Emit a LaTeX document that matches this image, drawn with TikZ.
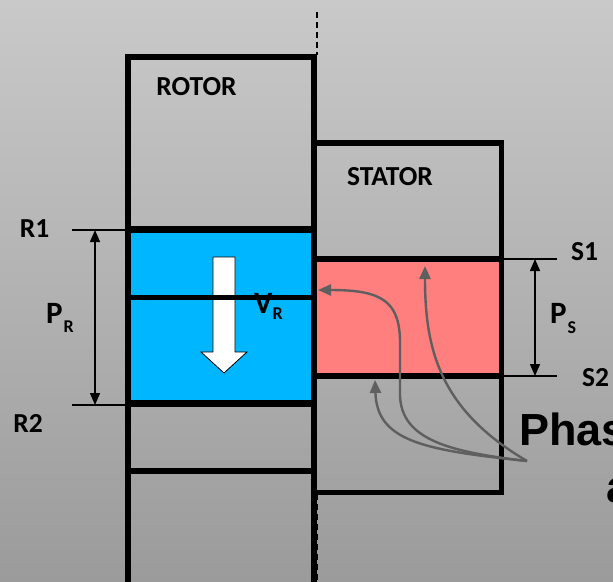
\documentclass[tikz,border=0pt]{standalone}
\usepackage{fontspec}
\setmainfont{Carlito}
\newfontfamily\phasefont{Liberation Sans}
\usetikzlibrary{arrows.meta}
\definecolor{bgtop}{RGB}{201,201,201}
\definecolor{bgbot}{RGB}{155,155,155}
\definecolor{rotorblue}{RGB}{0,183,255}
\definecolor{statorpink}{RGB}{255,127,127}
\definecolor{fluxgray}{RGB}{95,95,95}
\tikzset{
  thickline/.style={line width=5.5pt, draw=black, line join=miter},
  dimline/.style={line width=1.4pt, draw=black, {Triangle[length=12pt,width=10pt]}-{Triangle[length=12pt,width=10pt]}},
  extline/.style={line width=1.1pt, draw=black},
  grayarrow/.style={line width=2.4pt, draw=fluxgray, -{Triangle[length=13pt,width=11pt]}},
  lbl/.style={inner sep=0pt, font=\bfseries\fontsize{27.5}{30}\selectfont},
  biglbl/.style={inner sep=0pt, font=\bfseries\fontsize{31}{34}\selectfont},
  centerline/.style={line width=1.5pt, draw=black, dash pattern=on 6pt off 4pt}
}
\newcommand{\mysub}[2]{\raisebox{#1}{\fontsize{18}{18}\selectfont #2}}
\begin{document}
\begin{tikzpicture}[x=1pt,y=-1pt]
\useasboundingbox (0,0) rectangle (613,581);
\clip (0,0) rectangle (613,581);
\shade[top color=bgtop, bottom color=bgbot] (0,0) rectangle (613,581);

% centre line
\coordinate (cl1) at (317,12);
\coordinate (cl2) at (317,55);
\coordinate (cl3) at (317,494);
\coordinate (cl4) at (317,590);
\draw[centerline] (cl1) -- (cl2);
\draw[centerline] (cl3) -- (cl4);

% fills
\fill[rotorblue] (128,229.5) rectangle (314,403.5);
\fill[statorpink] (314,259) rectangle (501.5,376);

% white arrow (velocity)
\draw[fill=white, draw=black, line width=0.8pt]
  (213,257) -- (235,257) -- (235,352) -- (247,352) -- (224,373) -- (201,352) -- (213,352) -- cycle;

% rotor
\draw[thickline] (128,600) -- (128,57) -- (314,57) -- (314,600);
\draw[line width=7pt] (128,229.5) -- (314,229.5);
\draw[line width=5pt] (128,297) -- (314,297);
\draw[line width=7pt] (128,403.5) -- (314,403.5);
\draw[line width=5.5pt] (128,471) -- (314,471);

% stator
\draw[thickline] (314,143) -- (501.5,143) -- (501.5,492.5) -- (314,492.5);
\draw[line width=6.5pt] (314,259) -- (501.5,259);
\draw[line width=6pt] (314,376) -- (501.5,376);

% dimension lines rotor
\coordinate (r1a) at (72,230);
\coordinate (r1b) at (128,230);
\coordinate (r2a) at (72,405);
\coordinate (r2b) at (128,405);
\coordinate (pr1) at (95,230);
\coordinate (pr2) at (95,405);
\draw[extline] (r1a) -- (r1b);
\draw[extline] (r2a) -- (r2b);
\draw[dimline] (pr1) -- (pr2);

% dimension lines stator
\coordinate (s1a) at (502,259);
\coordinate (s1b) at (557,259);
\coordinate (s2a) at (502,376);
\coordinate (s2b) at (557,376);
\coordinate (ps1) at (535,259);
\coordinate (ps2) at (535,376);
\draw[extline] (s1a) -- (s1b);
\draw[extline] (s2a) -- (s2b);
\draw[dimline] (ps1) -- (ps2);

% flux arrows
\coordinate (src) at (527,461);
\coordinate (tipA) at (318,290);
\coordinate (tipB) at (425,266);
\coordinate (tipC) at (375,380);
\draw[grayarrow] (src) .. controls (450,452) and (401,440) .. (400,395) -- (400,340) .. controls (399,300) and (380,290) .. (tipA);
\draw[grayarrow] (src) .. controls (440,410) and (425,350) .. (tipB);
\draw[grayarrow] (src) .. controls (420,450) and (377,440) .. (tipC);

% labels
\node[lbl] (rotor) at (196.5,87) {ROTOR};
\node[lbl] (stator) at (390,177) {STATOR};
\node[lbl] (r1) at (34.5,229) {R1};
\node[lbl] (r2) at (28,423) {R2};
\node[lbl] (s1) at (584.5,252) {S1};
\node[lbl, anchor=west] (s2) at (582,378) {S2};
\node[biglbl, anchor=base west] (pr) at (46,323) {P\kern1pt\mysub{-9pt}{R}};
\node[biglbl, anchor=base west] (ps) at (550,323) {P\kern1pt\mysub{-10pt}{S}};
\node[biglbl, anchor=base west] (vr) at (254,313) {V\kern0pt\mysub{-6pt}{R}};
\node[inner sep=0pt, anchor=base west, font=\phasefont\bfseries\fontsize{45}{50}\selectfont] (phase) at (519,445) {Phase};
\node[inner sep=0pt, anchor=base west, font=\phasefont\bfseries\fontsize{45}{50}\selectfont] (phase2) at (606,502) {a};
\end{tikzpicture}
\end{document}
